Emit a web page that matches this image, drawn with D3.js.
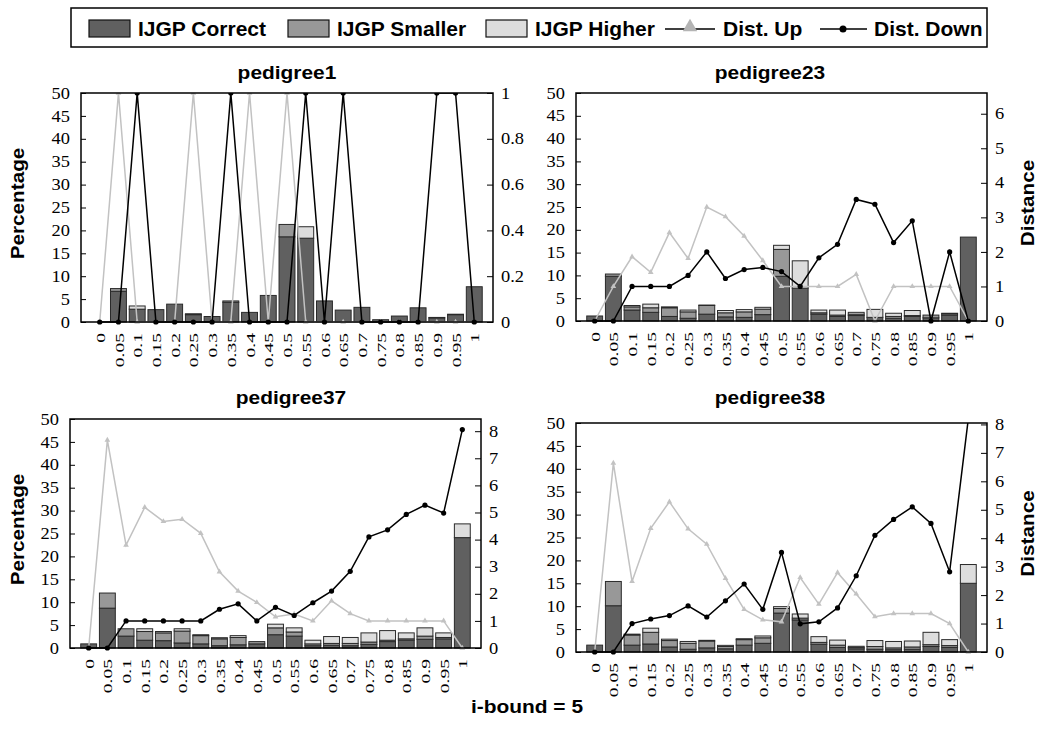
<!DOCTYPE html>
<html>
<head>
<meta charset="utf-8">
<script src="https://cdn.jsdelivr.net/npm/d3@7"></script>
<style>
  body { margin: 0; background: #fff; }
  svg { display: block; }
  .serif { font-family: "Liberation Serif", "DejaVu Serif", "Times New Roman", serif !important; }
</style>
</head>
<body>
<div id="chart"></div>
<script>
const width = 1041;
const height = 747;

// DATA
const iBounds = ["0","0.05","0.1","0.15","0.2","0.25","0.3","0.35","0.4","0.45","0.5",
                 "0.55","0.6","0.65","0.7","0.75","0.8","0.85","0.9","0.95","1"];
const percentTicks = [0, 5, 10, 15, 20, 25, 30, 35, 40, 45, 50];

// pedigree1
const ped1Correct = [0, 6.7, 2.8, 2.7, 3.9, 1.6, 1.2, 4.3, 2.1, 5.8, 18.6, 18.3, 4.6, 2.6, 3.2, 0.5, 1.3, 3.1, 0.9, 1.6, 7.7];
const ped1Smaller = [0, 0.6, 0, 0, 0, 0.2, 0, 0.3, 0, 0, 2.7, 0, 0, 0, 0, 0, 0, 0, 0.1, 0.1, 0];
const ped1Higher  = [0, 0, 0.7, 0, 0, 0, 0, 0, 0, 0, 0, 2.5, 0, 0, 0, 0, 0, 0, 0, 0, 0];
const ped1DistUp   = [0, 1, 0, 0, 0, 1, 0, 0, 1, 0, 1, 0, 0, 0, 0, 0, 0, 0, 0, 0, 0];
const ped1DistDown = [0, 0, 1, 0, 0, 0, 0, 1, 0, 0, 0, 1, 0, 1, 0, 0, 0, 0, 1, 1, 0];
const ped1DistTicks = [0, 0.2, 0.4, 0.6, 0.8, 1];

// pedigree23
const ped23Correct = [1.1, 9.8, 2.4, 1.9, 1.0, 0.6, 1.5, 0.9, 0.8, 1.4, 9.8, 7.2, 1.5, 1.0, 1.2, 0.8, 0.6, 1.0, 0.7, 1.3, 18.4];
const ped23Smaller = [0, 0.5, 0.7, 1.0, 1.9, 1.4, 1.9, 0.9, 1.2, 1.2, 5.9, 0, 0.3, 0.3, 0.3, 0, 0.4, 0.2, 0.6, 0.3, 0];
const ped23Higher  = [0, 0, 0.3, 0.8, 0.2, 0.4, 0.1, 0.5, 0.5, 0.4, 0.9, 6.0, 0.6, 1.1, 0.4, 1.75, 0.7, 1.1, 0, 0.1, 0];
const ped23DistUp   = [0, 1.0, 1.86, 1.41, 2.56, 1.81, 3.3, 3.02, 2.46, 1.75, 1.0, 1.0, 1.0, 1.0, 1.35, 0, 1.0, 1.0, 1.0, 1.0, 0];
const ped23DistDown = [0, 0, 1.0, 1.0, 1.0, 1.32, 2.0, 1.23, 1.49, 1.55, 1.43, 1.0, 1.83, 2.22, 3.52, 3.38, 2.27, 2.9, 0, 2.0, 0];
const ped23DistTicks = [0, 1, 2, 3, 4, 5, 6];

// pedigree37
const ped37Correct = [0.9, 8.7, 2.6, 1.7, 1.6, 1.1, 0.9, 0.5, 0.7, 0.9, 2.9, 2.6, 0.5, 0.6, 0.5, 0.8, 1.4, 1.7, 1.9, 2.0, 24.1];
const ped37Smaller = [0, 3.3, 1.6, 1.9, 1.7, 2.6, 1.8, 1.5, 1.6, 0.5, 1.5, 0.9, 0.4, 0.4, 0.5, 0.5, 0.3, 0.3, 0.7, 0.3, 0];
const ped37Higher  = [0, 0, 0, 0.6, 0.3, 0.5, 0.2, 0.25, 0.4, 0, 0.8, 0.9, 0.8, 1.5, 1.3, 2.0, 2.1, 1.3, 1.8, 1.0, 3.0];
const ped37DistUp   = [0, 7.67, 3.8, 5.19, 4.67, 4.75, 4.23, 2.81, 2.1, 1.68, 1.15, 1.25, 1.0, 1.74, 1.27, 1.0, 1.0, 1.0, 1.0, 1.0, 0];
const ped37DistDown = [0, 0, 1.0, 1.0, 1.0, 1.0, 1.0, 1.43, 1.63, 1.0, 1.5, 1.2, 1.67, 2.1, 2.83, 4.1, 4.36, 4.93, 5.27, 4.98, 8.06];
const ped37DistTicks = [0, 1, 2, 3, 4, 5, 6, 7, 8];

// pedigree38
const ped38Correct = [1.5, 10.1, 1.5, 1.75, 1.1, 0.6, 0.9, 0.7, 1.5, 1.9, 8.5, 7.0, 1.7, 1.0, 0.7, 0.6, 0.5, 0.6, 1.2, 1.0, 15.0];
const ped38Smaller = [0, 5.3, 2.2, 2.55, 1.4, 1.3, 1.5, 0.5, 1.2, 1.2, 1.0, 0.4, 0.4, 0.5, 0.3, 0.6, 0.4, 0.5, 0.4, 0.4, 0];
const ped38Higher  = [0, 0, 0.2, 0.9, 0.3, 0.4, 0.15, 0.25, 0.2, 0.4, 0.4, 0.9, 1.25, 1.1, 0.25, 1.3, 1.4, 1.3, 2.7, 1.3, 4.1];
const ped38DistUp   = [0, 6.64, 2.48, 4.35, 5.28, 4.33, 3.79, 2.59, 1.5, 1.13, 1.06, 2.62, 1.68, 2.79, 2.04, 1.24, 1.35, 1.35, 1.35, 1.0, 0];
const ped38DistDown = [0, 0, 1.0, 1.16, 1.28, 1.62, 1.23, 1.8, 2.39, 1.5, 3.5, 0.99, 1.06, 1.55, 2.68, 4.1, 4.66, 5.1, 4.52, 2.82, 8.2];
const ped38DistTicks = [0, 1, 2, 3, 4, 5, 6, 7, 8];

const keys = ["correct", "smaller", "higher"];
const colors = { correct: "#606060", smaller: "#989898", higher: "#dddddd" };
const upColor = "#c2c2c2";

const sans = "'Liberation Sans', Arial, sans-serif";

// stretch text along its baseline (the source fonts run wide)
function stretch(sel, k) {
  sel.each(function() {
    const w = this.getComputedTextLength();
    d3.select(this).attr("textLength", w * k).attr("lengthAdjust", "spacingAndGlyphs");
  });
}

const panels = [
  { name: "pedigree1",  correct: ped1Correct,  smaller: ped1Smaller,  higher: ped1Higher,  up: ped1DistUp,  down: ped1DistDown,  distTicks: ped1DistTicks,  distMax: 1,
    left: 81,  right: 493, top: 93,  bottom: 322, titleX: 287, titleY: 79,  side: "left" },
  { name: "pedigree23", correct: ped23Correct, smaller: ped23Smaller, higher: ped23Higher, up: ped23DistUp, down: ped23DistDown, distTicks: ped23DistTicks, distMax: 6.6,
    left: 576, right: 987, top: 93,  bottom: 321, titleX: 770, titleY: 79,  side: "right" },
  { name: "pedigree37", correct: ped37Correct, smaller: ped37Smaller, higher: ped37Higher, up: ped37DistUp, down: ped37DistDown, distTicks: ped37DistTicks, distMax: 8.45,
    left: 70,  right: 481, top: 419, bottom: 648, titleX: 291, titleY: 404, side: "left" },
  { name: "pedigree38", correct: ped38Correct, smaller: ped38Smaller, higher: ped38Higher, up: ped38DistUp, down: ped38DistDown, distTicks: ped38DistTicks, distMax: 8.05,
    left: 576, right: 987, top: 423, bottom: 652, titleX: 770, titleY: 404, side: "right" }
];

const svg = d3.select("#chart")
  .append("svg")
  .attr("width", width)
  .attr("height", height);

// LEGEND
const legend = svg.append("g");
legend.append("rect")
  .attr("x", 71).attr("y", 8).attr("width", 916).attr("height", 39)
  .attr("fill", "none").attr("stroke", "#000").attr("stroke-width", 1.5);

const legendBoxes = [
  { key: "correct", label: "IJGP Correct", x: 89 },
  { key: "smaller", label: "IJGP Smaller", x: 288 },
  { key: "higher",  label: "IJGP Higher",  x: 486 }
];
legendBoxes.forEach(d => {
  legend.append("rect")
    .attr("x", d.x).attr("y", 20).attr("width", 41).attr("height", 17)
    .attr("fill", colors[d.key]).attr("stroke", "#111").attr("stroke-width", 1.2);
  legend.append("text")
    .attr("x", d.x + 49).attr("y", 36)
    .attr("font-family", sans).attr("font-weight", "bold").attr("font-size", 21)
    .text(d.label);
});
legend.append("line").attr("x1", 665).attr("x2", 715).attr("y1", 29).attr("y2", 29)
  .attr("stroke", "#000").attr("stroke-width", 1.5);
legend.append("path").attr("d", d3.symbol(d3.symbolTriangle, 90)())
  .attr("transform", "translate(690,27)").attr("fill", "#b4b4b4");
legend.append("text").attr("x", 723).attr("y", 36)
  .attr("font-family", sans).attr("font-weight", "bold").attr("font-size", 21)
  .text("Dist. Up");
legend.append("line").attr("x1", 820).attr("x2", 867).attr("y1", 29).attr("y2", 29)
  .attr("stroke", "#000").attr("stroke-width", 1.5);
legend.append("circle").attr("cx", 843).attr("cy", 29).attr("r", 3.5).attr("fill", "#000");
legend.append("text").attr("x", 874).attr("y", 36)
  .attr("font-family", sans).attr("font-weight", "bold").attr("font-size", 21)
  .text("Dist. Down");

// PANELS
panels.forEach((p, pi) => {
  const table = iBounds.map((b, i) => ({ bound: b, correct: p.correct[i], smaller: p.smaller[i], higher: p.higher[i] }));
  const stacked = d3.stack().keys(keys)(table);

  const xScale = d3.scalePoint()
    .domain(iBounds)
    .range([p.left, p.right])
    .padding(1);
  const barW = xScale.step() * 0.85;

  const yScale = d3.scaleLinear().domain([0, 50]).range([p.bottom, p.top]);
  const dScale = d3.scaleLinear().domain([0, p.distMax]).range([p.bottom, p.top]);

  const g = svg.append("g");

  const clipId = "clip" + pi;
  svg.append("clipPath").attr("id", clipId)
    .append("rect")
    .attr("x", p.left - 10).attr("y", p.top)
    .attr("width", p.right - p.left + 20).attr("height", p.bottom - p.top + 8);

  // bars
  g.selectAll("g.layer")
    .data(stacked)
    .join("g")
    .attr("class", "layer")
    .attr("fill", d => colors[d.key])
    .selectAll("rect")
    .data(d => d.filter(s => s[1] - s[0] > 0))
    .join("rect")
    .attr("x", d => xScale(d.data.bound) - barW / 2)
    .attr("width", barW)
    .attr("y", d => yScale(d[1]))
    .attr("height", d => yScale(d[0]) - yScale(d[1]))
    .attr("stroke", "#2a2a2a")
    .attr("stroke-width", 1);

  const lines = g.append("g").attr("clip-path", `url(#${clipId})`);

  const line = d3.line()
    .x((d, i) => xScale(iBounds[i]))
    .y(d => dScale(d));

  // Dist. Up
  lines.append("path")
    .datum(p.up)
    .attr("d", line)
    .attr("fill", "none")
    .attr("stroke", upColor)
    .attr("stroke-width", 1.5);
  lines.selectAll("path.tri")
    .data(p.up)
    .join("path")
    .attr("class", "tri")
    .attr("d", d3.symbol(d3.symbolTriangle, 14)())
    .attr("transform", (d, i) => `translate(${xScale(iBounds[i])},${dScale(d)})`)
    .attr("fill", upColor);

  // Dist. Down
  lines.append("path")
    .datum(p.down)
    .attr("d", line)
    .attr("fill", "none")
    .attr("stroke", "#000")
    .attr("stroke-width", 1.5);
  lines.selectAll("circle")
    .data(p.down)
    .join("circle")
    .attr("cx", (d, i) => xScale(iBounds[i]))
    .attr("cy", d => dScale(d))
    .attr("r", 2.6)
    .attr("fill", "#000");

  // frame
  g.append("rect")
    .attr("x", p.left).attr("y", p.top)
    .attr("width", p.right - p.left).attr("height", p.bottom - p.top)
    .attr("fill", "none").attr("stroke", "#000").attr("stroke-width", 1.5);

  // left axis
  const yAxis = g.append("g")
    .attr("transform", `translate(${p.left},0)`)
    .call(d3.axisLeft(yScale).tickValues(percentTicks).tickFormat(d => String(d))
      .tickSize(-5).tickSizeOuter(0).tickPadding(11));
  yAxis.select(".domain").remove();

  // right axis
  const dAxis = g.append("g")
    .attr("transform", `translate(${p.right},0)`)
    .call(d3.axisRight(dScale).tickValues(p.distTicks).tickFormat(d => String(d))
      .tickSize(-6).tickSizeOuter(0).tickPadding(8));
  dAxis.select(".domain").remove();

  [yAxis, dAxis].forEach(ax => {
    ax.attr("font-family", null);
    ax.selectAll("line").attr("stroke", "#000");
    const t = ax.selectAll("text")
      .attr("class", "serif").attr("font-size", 16).attr("fill", "#000");
    stretch(t, 1.15);
  });

  // x axis
  const xAxis = g.append("g")
    .attr("transform", `translate(0,${p.bottom})`)
    .call(d3.axisBottom(xScale).tickSize(0).tickPadding(0));
  xAxis.attr("font-family", null);
  xAxis.select(".domain").remove();
  const xt = xAxis.selectAll("text")
    .attr("transform", "rotate(-90)")
    .attr("x", -11)
    .attr("y", 0)
    .attr("dy", "0.35em")
    .attr("text-anchor", "end")
    .attr("class", "serif").attr("font-size", 13).attr("fill", "#000");
  stretch(xt, 1.5);

  // title
  const title = g.append("text")
    .attr("x", p.titleX).attr("y", p.titleY)
    .attr("text-anchor", "middle")
    .attr("font-family", sans).attr("font-weight", "bold").attr("font-size", 19)
    .text(p.name);
  stretch(title, 1.1);

  // axis label
  const midY = (p.top + p.bottom) / 2;
  if (p.side === "left") {
    const lab = g.append("text")
      .attr("transform", `translate(24,${midY - 4}) rotate(-90)`)
      .attr("text-anchor", "middle")
      .attr("font-family", sans).attr("font-weight", "bold").attr("font-size", 19)
      .text("Percentage");
    stretch(lab, 1.09);
  } else {
    const lab = g.append("text")
      .attr("transform", `translate(1034,${midY - 4}) rotate(-90)`)
      .attr("text-anchor", "middle")
      .attr("font-family", sans).attr("font-weight", "bold").attr("font-size", 19)
      .text("Distance");
    stretch(lab, 1.09);
  }
});

// bottom caption
const cap = svg.append("text")
  .attr("x", 527).attr("y", 713)
  .attr("text-anchor", "middle")
  .attr("font-family", sans).attr("font-weight", "bold").attr("font-size", 19)
  .text("i-bound = 5");
stretch(cap, 1.1);
</script>
</body>
</html>
